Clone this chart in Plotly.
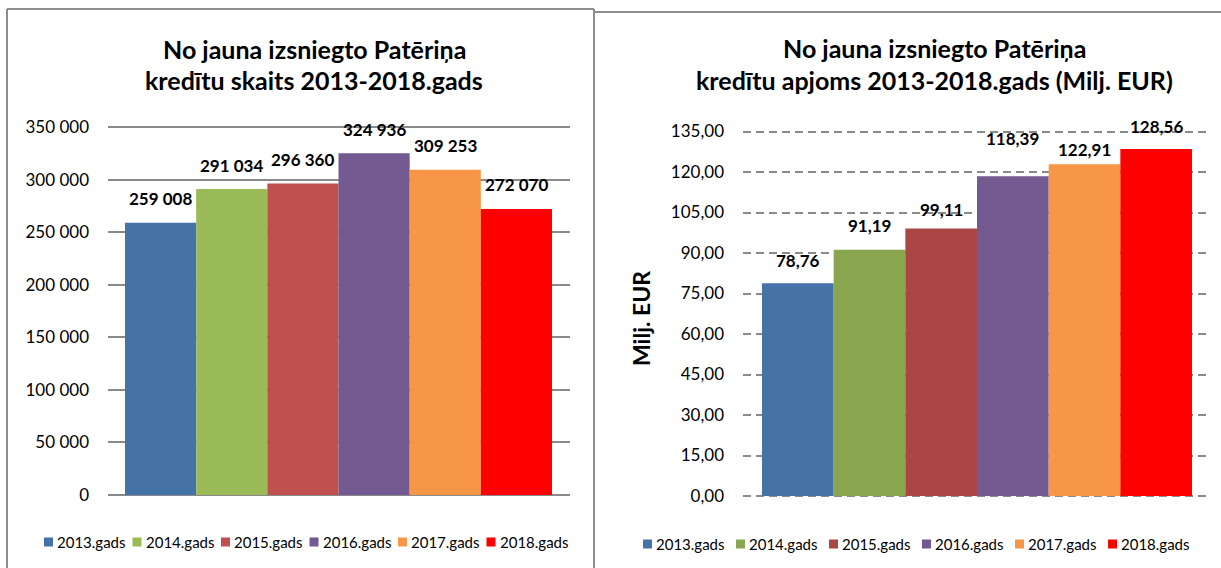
import plotly.graph_objects as go

# ---------------- data ----------------
years = ["2013.gads", "2014.gads", "2015.gads", "2016.gads", "2017.gads", "2018.gads"]
count_values = [259008, 291034, 296360, 324936, 309253, 272070]
volume_values = [78.76, 91.19, 99.11, 118.39, 122.91, 128.56]
count_ticks = [0, 50000, 100000, 150000, 200000, 250000, 300000, 350000]
volume_ticks = [0, 15, 30, 45, 60, 75, 90, 105, 120, 135]
count_title = ["No jauna izsniegto Patēriņa", "kredītu skaits 2013-2018.gads"]
volume_title = ["No jauna izsniegto Patēriņa", "kredītu apjoms 2013-2018.gads (Milj. EUR)"]
volume_axis_title = "Milj. EUR"

# ---------------- styles ----------------
count_colors = ["#4572A7", "#9BBB59", "#C0504D", "#72598F", "#F79646", "#FF0000"]
volume_colors = ["#4572A7", "#89A54E", "#AA4643", "#72598F", "#F79646", "#FF0000"]
volume_label_shift = [23, 24, 19, 38, 15, 22]
count_label_shift = 24

W, H = 1221, 568
FONT = "Lato"
GRID = "#8a8a8a"


def px(x):
    return x / W


def py(y):
    return (H - y) / H


def fmt_count(v):
    return f"{v:,}".replace(",", " ")


def fmt_volume(v):
    return f"{v:.2f}".replace(".", ",")


fig = go.Figure()

for i, name in enumerate(years):
    fig.add_trace(go.Bar(x=[name], y=[count_values[i]], name=name, width=1,
                         marker=dict(color=count_colors[i], line=dict(width=0)),
                         xaxis="x", yaxis="y", showlegend=False))
    fig.add_trace(go.Bar(x=[name], y=[volume_values[i]], name=name, width=1,
                         marker=dict(color=volume_colors[i], line=dict(width=0)),
                         xaxis="x2", yaxis="y2", showlegend=False))

annotations = []
shapes = []

# data labels
for i, name in enumerate(years):
    annotations.append(dict(x=name, y=count_values[i], xref="x", yref="y",
                            text="<b>" + fmt_count(count_values[i]) + "</b>",
                            showarrow=False, yshift=count_label_shift,
                            font=dict(family=FONT, size=17, color="black")))
    annotations.append(dict(x=name, y=volume_values[i], xref="x2", yref="y2",
                            text="<b>" + fmt_volume(volume_values[i]) + "</b>",
                            showarrow=False, yshift=volume_label_shift[i],
                            font=dict(family=FONT, size=17, color="black")))

# titles
for line, yy in zip(count_title, [49, 80]):
    annotations.append(dict(x=px(314), y=py(yy), xref="paper", yref="paper",
                            text="<b>" + line + "</b>", showarrow=False,
                            xanchor="center", yanchor="middle",
                            font=dict(family=FONT, size=25, color="black")))
for line, yy in zip(volume_title, [48, 80]):
    annotations.append(dict(x=px(934), y=py(yy), xref="paper", yref="paper",
                            text="<b>" + line + "</b>", showarrow=False,
                            xanchor="center", yanchor="middle",
                            font=dict(family=FONT, size=25, color="black")))

# y-axis title of right chart
annotations.append(dict(x=px(641), y=py(319), xref="paper", yref="paper",
                        text="<b>" + volume_axis_title + "</b>", showarrow=False,
                        textangle=-90, xanchor="center", yanchor="middle",
                        font=dict(family=FONT, size=23, color="black")))

# custom legends
for start, pitch, cy, cols in [(44, 88.5, 542, count_colors), (643, 93, 544, volume_colors)]:
    for i, name in enumerate(years):
        sx = start + i * pitch
        shapes.append(dict(type="rect", xref="paper", yref="paper",
                           x0=px(sx), x1=px(sx + 9), y0=py(cy + 4.5), y1=py(cy - 4.5),
                           fillcolor=cols[i], line=dict(width=0)))
        annotations.append(dict(x=px(sx + 11), y=py(cy), xref="paper", yref="paper",
                                text=name, showarrow=False, xanchor="left", yanchor="middle",
                                font=dict(family=FONT, size=15, color="black")))

# frames
frame = dict(color="#8d8d8d", width=2)
for (x0, y0, x1, y1) in [(7, 9, 7, 575), (7, 9, 594, 9), (594, 9, 594, 575), (594, 12, 1225, 12)]:
    shapes.append(dict(type="line", xref="paper", yref="paper",
                       x0=px(x0), y0=py(y0), x1=px(x1), y1=py(y1), line=frame))

tickfont = dict(family=FONT, size=17, color="black")

# one pixel of headroom on each side so the edge gridlines are drawn
left_px = 350000 / 368.0
right_px = 135 / 364.5

fig.update_layout(
    width=W, height=H,
    margin=dict(l=0, r=0, t=0, b=0, autoexpand=False),
    paper_bgcolor="white", plot_bgcolor="white",
    barmode="overlay",
    showlegend=False,
    xaxis=dict(domain=[px(108), px(570)], type="category", categoryorder="array",
               categoryarray=years, range=[-0.739, 5.753], showticklabels=False,
               showgrid=False, zeroline=False, showline=False, ticks="", anchor="y"),
    yaxis=dict(domain=[py(497), py(125)], range=[-2 * left_px, 350000 + 2 * left_px],
               tickvals=count_ticks,
               ticktext=[fmt_count(v) for v in count_ticks], showgrid=True,
               gridcolor=GRID, gridwidth=2, zeroline=False, showline=False, ticks="",
               tickfont=tickfont, ticklabelstandoff=18, anchor="x"),
    xaxis2=dict(domain=[px(743), px(1208)], type="category", categoryorder="array",
                categoryarray=years, range=[-0.765, 5.723], showticklabels=False,
                showgrid=False, zeroline=False, showline=False, ticks="", anchor="y2"),
    yaxis2=dict(domain=[py(498), py(129.5)], range=[-2 * right_px, 135 + 2 * right_px],
                tickvals=volume_ticks,
                ticktext=[fmt_volume(v) for v in volume_ticks], showgrid=True,
                gridcolor=GRID, gridwidth=2, griddash="8px,5px", zeroline=False,
                showline=False, ticks="", tickfont=tickfont, ticklabelstandoff=18,
                anchor="x2"),
    annotations=annotations,
    shapes=shapes,
)

fig.write_html("out.html", config={"displayModeBar": False},
               post_script="document.body.style.margin='0';document.body.style.overflow='hidden';")
